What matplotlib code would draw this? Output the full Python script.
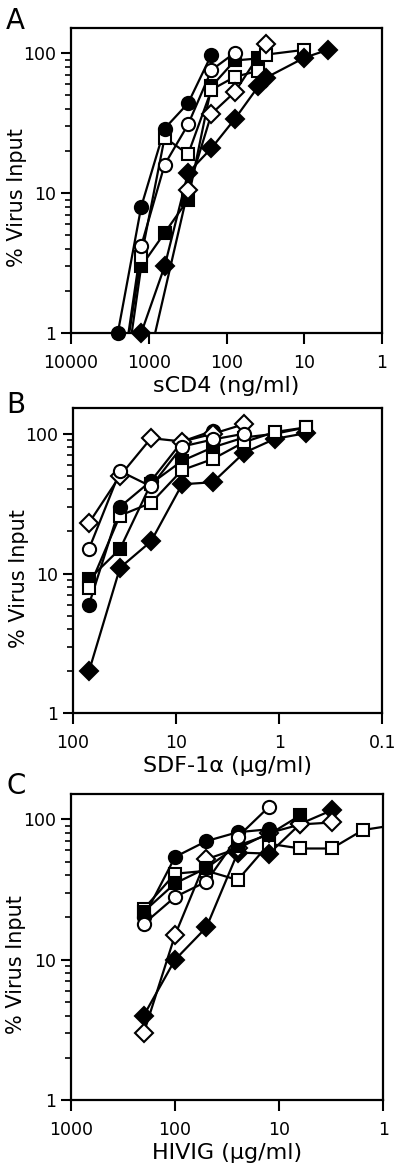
import numpy as np
import matplotlib.pyplot as plt
from matplotlib.ticker import LogLocator, FixedLocator, FixedFormatter, NullFormatter

plt.rcParams['font.family'] = ['DejaVu Sans']

# Panel A: sCD4 (ng/ml)
A_FC_X = [2500, 1250, 625, 312, 156]
A_FC_Y = [1.0, 8.0, 29, 44, 98]
A_OC_X = [2500, 1250, 625, 312, 156, 78]
A_OC_Y = [0.3, 4.2, 16, 31, 76, 101]
A_FS_X = [2500, 1250, 625, 312, 156, 78, 39]
A_FS_Y = [0.2, 3.0, 5.2, 9, 58, 89, 92]
A_OS_X = [2500, 1250, 625, 312, 156, 78, 39, 31, 10]
A_OS_Y = [0.3, 3.5, 25, 19, 55, 68, 75, 98, 106]
A_OD_X = [1250, 312, 156, 78, 31]
A_OD_Y = [0.37, 10.5, 37, 53, 116]
A_FD_X = [1250, 625, 312, 156, 78, 39, 31, 10, 5]
A_FD_Y = [1.0, 3.0, 14, 21, 34, 58, 67, 93, 106]

# Panel B: SDF-1alpha (ug/ml)
B_X = [70, 35, 17.5, 8.75, 4.4, 2.2, 1.1, 0.55]
B_FC_Y = [6.0, 30, 46, 88, 105]
B_OC_Y = [15, 54, 42, 81, 91, 100]
B_OD_Y = [23, 50, 93, 88, 100, 117]
B_FS_Y = [9.1, 15, 44, 64, 80, 94, 100, 111]
B_OS_Y = [7.9, 26, 32, 55, 66, 87, 103, 111]
B_FD_Y = [2.0, 11, 17, 43.5, 45, 73, 92, 101]

# Panel C: HIVIG (ug/ml)
C_X = [200, 100, 50, 25, 12.5, 6.25, 3.125, 1.5625, 0.78]
C_FC_Y = [20, 54, 70, 81, 85]
C_OC_Y = [18, 28, 36, 75, 123]
C_FS_Y = [22, 35, 45, 65, 78, 107]
C_OS_Y = [23, 41, 43, 37, 67, 62, 62, 84, 91]
C_OD_Y = [3.0, 15, 52, 62, 80, 92, 95]
C_FD_Y = [4.0, 10, 17, 58, 57, 93, 116]

STYLES = {
    'FC': ('o', 'black', 9.5),
    'OC': ('o', 'white', 9.5),
    'FS': ('s', 'black', 8.5),
    'OS': ('s', 'white', 8.5),
    'OD': ('D', 'white', 9),
    'FD': ('D', 'black', 9),
}


def draw_series(ax, x, y, key, xlim, ylim):
    marker, face, ms = STYLES[key]
    x = np.asarray(x, dtype=float)
    y = np.asarray(y, dtype=float)
    ax.plot(x, y, '-', color='black', lw=1.6, zorder=2)
    lo, hi = min(xlim), max(xlim)
    keep = (y >= ylim[0]) & (x >= lo) & (x <= hi)
    ax.plot(x[keep], y[keep], ls='none', marker=marker, ms=ms,
            mfc=face, mec='black', mew=1.5, zorder=3, clip_on=False)


def setup(ax, xlim, xticks, xlabels, xlabel):
    ylim = (1, 152)
    ax.set_xscale('log')
    ax.set_yscale('log')
    ax.set_xlim(*xlim)
    ax.set_ylim(*ylim)
    ax.xaxis.set_major_locator(FixedLocator(xticks))
    ax.xaxis.set_major_formatter(FixedFormatter(xlabels))
    ax.xaxis.set_minor_locator(FixedLocator([]))
    ax.yaxis.set_major_locator(FixedLocator([1, 10, 100]))
    ax.yaxis.set_major_formatter(FixedFormatter(['1', '10', '100']))
    ax.yaxis.set_minor_locator(LogLocator(base=10, subs=np.arange(2, 10)))
    ax.yaxis.set_minor_formatter(NullFormatter())
    ax.tick_params(which='major', direction='out', length=7, width=1.5,
                   labelsize=12.5, pad=4)
    ax.tick_params(which='minor', direction='out', length=4, width=1.2)
    ax.tick_params(axis='x', which='major', length=8, pad=7)
    for sp in ax.spines.values():
        sp.set_linewidth(1.6)
    ax.set_xlabel(xlabel, fontsize=16, labelpad=3)
    ax.set_ylabel('% Virus Input', fontsize=15)
    ax.yaxis.set_label_coords(-0.143, 0.443)
    return ylim


fig = plt.figure(figsize=(4, 11.7), dpi=100)
left, width, height = 0.1775, 0.7775, 0.2607
axA = fig.add_axes([left, 0.7154, width, height])
axB = fig.add_axes([left + 0.005, 0.3903, width - 0.004, height])
axC = fig.add_axes([left, 0.0598, width + 0.003, height + 0.001])

# A
xlimA = (10000, 1)
ylim = setup(axA, xlimA, [10000, 1000, 100, 10, 1],
             ['10000', '1000', '100', '10', '1'], 'sCD4 (ng/ml)')
for x, y, k in [(A_FS_X, A_FS_Y, 'FS'), (A_OS_X, A_OS_Y, 'OS'),
                (A_OD_X, A_OD_Y, 'OD'), (A_FD_X, A_FD_Y, 'FD'),
                (A_OC_X, A_OC_Y, 'OC'), (A_FC_X, A_FC_Y, 'FC')]:
    draw_series(axA, x, y, k, xlimA, ylim)

# B
xlimB = (100, 0.1)
ylim = setup(axB, xlimB, [100, 10, 1, 0.1], ['100', '10', '1', '0.1'],
             'SDF-1\u03b1 (\u03bcg/ml)')
for y, k in [(B_FD_Y, 'FD'), (B_FS_Y, 'FS'), (B_OS_Y, 'OS'),
             (B_FC_Y, 'FC'), (B_OD_Y, 'OD'), (B_OC_Y, 'OC')]:
    draw_series(axB, B_X[:len(y)], y, k, xlimB, ylim)

# C
xlimC = (1000, 1)
ylim = setup(axC, xlimC, [1000, 100, 10, 1], ['1000', '100', '10', '1'],
             'HIVIG (\u03bcg/ml)')
for y, k in [(C_OS_Y, 'OS'), (C_FD_Y, 'FD'), (C_OD_Y, 'OD'),
             (C_FS_Y, 'FS'), (C_FC_Y, 'FC'), (C_OC_Y, 'OC')]:
    draw_series(axC, C_X[:len(y)], y, k, xlimC, ylim)

fig.text(0.014, 0.994, 'A', fontsize=20, va='top', ha='left')
fig.text(0.015, 0.666, 'B', fontsize=20, va='top', ha='left')
fig.text(0.015, 0.340, 'C', fontsize=20, va='top', ha='left')

fig.savefig('out.png', dpi=100)
